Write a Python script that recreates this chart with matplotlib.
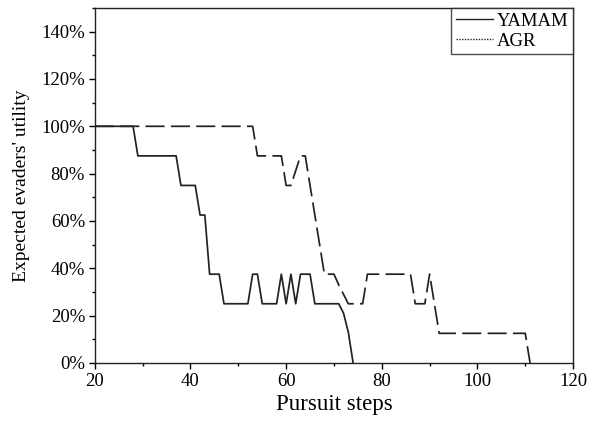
import numpy as np
import matplotlib
matplotlib.use("Agg")
import matplotlib.pyplot as plt
from matplotlib.lines import Line2D
from matplotlib.ticker import PercentFormatter, MultipleLocator

# Data (fraction of evaders' utility per pursuit step)
yamam_steps = [20, 28, 29, 37, 38, 41, 42, 43, 44, 46, 47, 52, 53, 54, 55, 58,
               59, 60, 61, 62, 63, 65, 66, 71, 72, 73, 74]
yamam_util = [1.0, 1.0, 0.875, 0.875, 0.75, 0.75, 0.625, 0.625, 0.375, 0.375,
              0.25, 0.25, 0.375, 0.375, 0.25, 0.25, 0.375, 0.25, 0.375, 0.25,
              0.375, 0.375, 0.25, 0.25, 0.21, 0.13, 0.0]

agr_steps = [20, 53, 54, 59, 60, 61, 63, 64, 65, 66, 67, 68, 70, 71, 72, 73,
             76, 77, 86, 87, 89, 90, 91, 92, 110, 111]
agr_util = [1.0, 1.0, 0.875, 0.875, 0.75, 0.75, 0.875, 0.875, 0.75, 0.625,
            0.5, 0.375, 0.375, 0.33, 0.29, 0.25, 0.25, 0.375, 0.375, 0.25,
            0.25, 0.375, 0.25, 0.125, 0.125, 0.0]

plt.rcParams['font.family'] = ['Liberation Serif', 'DejaVu Serif']

fig = plt.figure(figsize=(5.89, 4.21), dpi=100)
ax = fig.add_axes([0.161, 0.138, 0.812, 0.843])

ax.plot(yamam_steps, yamam_util, color='#222222', lw=1.25)
ax.plot(agr_steps, agr_util, color='#222222', lw=1.25, dashes=(11, 3.6))

ax.set_xlim(20, 120)
ax.set_ylim(0, 1.5)
ax.xaxis.set_major_locator(MultipleLocator(20))
ax.xaxis.set_minor_locator(MultipleLocator(10))
ax.yaxis.set_minor_locator(MultipleLocator(0.1))
ax.set_yticks(np.arange(0, 1.41, 0.2))
ax.yaxis.set_major_formatter(PercentFormatter(1.0, decimals=0))
ax.tick_params(which='major', direction='out', length=4, width=1, labelsize=13.5, pad=3)
ax.tick_params(which='minor', direction='out', length=2.5, width=1)

for s in ax.spines.values():
    s.set_linewidth(1.0)
    s.set_color('#222222')

ax.set_xlabel('Pursuit steps', fontsize=16.5, labelpad=3)
ax.set_ylabel("Expected evaders' utility", fontsize=14, labelpad=8)

handles = [Line2D([], [], color='#222222', lw=1.0),
           Line2D([], [], color='#222222', lw=1.0, ls=(0, (1, 1)))]
leg = ax.legend(handles, ['YAMAM', 'AGR'], loc='upper right', fontsize=13.5,
                frameon=True, fancybox=False, edgecolor='#222222',
                borderaxespad=0, handlelength=2.0, handletextpad=0.2,
                labelspacing=0.15, borderpad=0.25)
leg.get_frame().set_linewidth(1.0)

fig.savefig('out.png', dpi=100)
